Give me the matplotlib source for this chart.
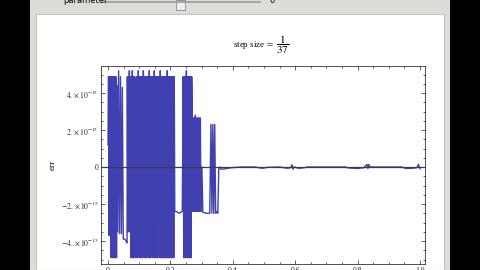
import numpy as np
import matplotlib
matplotlib.use("Agg")
import matplotlib.pyplot as plt
from matplotlib.patches import Rectangle
from matplotlib.ticker import MultipleLocator, FixedLocator

plt.rcParams['font.family'] = ['Liberation Serif', 'DejaVu Serif']
plt.rcParams['mathtext.fontset'] = 'stix'
plt.rcParams['path.simplify'] = False

# error values in units of 1e-15
# each block: sample span on the x axis and the values sampled across it
span_a = (0.000, 0.029)
y_a = [1.2, 4.88, -3.7, 4.88, -3.7, 4.88, -4.9, 4.88, -4.9, 4.88, -4.9, 4.88,
       -4.9, 4.88, -4.9, 4.88, -4.9, 4.4]

x_b = [0.031, 0.034, 0.037, 0.040, 0.043, 0.046, 0.049, 0.054, 0.058, 0.061]
y_b = [-3.5, 5.2, -3.6, 4.88, -3.6, 4.3, -3.9, -3.9, -4.0, -4.1]

span_c = (0.062, 0.214)
y_c = [4.88, -3.5, 4.88, -3.5, 5.2, -3.5, 4.88, -4.9, 4.88, -4.9, 5.2, -4.9,
       4.88, -4.9, 4.88, 4.6, 4.3, -4.9, 4.88, -4.9, 4.88, -4.9, 5.2, -3.5,
       4.88, -4.9, 4.88, -4.9, 4.88, -4.9, 4.88, -4.9, 5.2, 4.5, 4.88, -4.9,
       4.88, -4.9, 4.88, -4.9, 4.88, -4.6, 4.88, -4.9, 5.2, -4.9, 4.88, -4.9,
       4.88, 4.7, 4.88, -4.9, 4.88, -4.9, 5.2, -4.9, 4.88, -4.9, 4.88, -4.9,
       4.88, -4.9, 4.88, 4.6, 4.88, -4.9, 5.2, -4.9, 4.88, -4.9, 4.88, -4.9,
       4.88, -4.9, 4.88, -4.9, 4.88, -4.9, 4.88, -4.9, 5.2, -4.9, 4.88, -4.9,
       4.88, -4.9, 4.88, -4.9, 4.88, -4.9, 4.88, -4.9, 4.88, -4.9, 4.88, -2.4]

x_d = [0.218, 0.228, 0.238]
y_d = [-2.4, -2.5, -2.4]

span_e = (0.241, 0.270)
y_e = [4.88, -4.9, 4.88, -4.9, 4.88, -4.9, 5.2, -4.9, 4.88, -4.9, 4.88, -4.9,
       4.88, -4.9, 4.88, -4.9, 4.88, 2.6]

span_f = (0.272, 0.296)
y_f = [-2.4, 2.65, -2.4, 2.65, -2.4, 2.8, -2.4, 2.65, -2.4, 2.65, -2.4, 2.65,
       -2.4, 2.65, -2.4, 2.65]

x_g = [0.298, 0.301, 0.304, 0.315, 0.326]
y_g = [-2.4, 0.0, -2.45, -2.5, -2.5]

x_h = [0.330, 0.333, 0.336, 0.339, 0.342, 0.345, 0.349, 0.352, 0.355, 0.358]
y_h = [2.3, -2.5, 2.3, -2.5, 2.3, -2.5, -2.4, -2.5, -0.1, 0.0]

x_i = [0.362, 0.375, 0.390, 0.410, 0.430, 0.470, 0.495, 0.510, 0.550, 0.575,
       0.585, 0.590, 0.593, 0.597, 0.610, 0.625, 0.640, 0.760, 0.770, 0.800,
       0.820, 0.830, 0.833, 0.836, 0.840, 0.940, 0.955, 0.975, 0.990, 0.995,
       1.000]
y_i = [-0.12, -0.1, -0.05, -0.02, 0.0, 0.0, -0.07, -0.02, 0.0, -0.07,
       -0.04, 0.12, -0.12, 0.0, -0.07, -0.05, 0.0, 0.0, -0.05, -0.08,
       -0.04, 0.14, -0.08, 0.14, 0.0, 0.0, -0.08, -0.07, -0.04, 0.15,
       -0.1]

def grid(span, vals):
    return list(np.linspace(span[0], span[1], len(vals)))

x_vals = np.array(grid(span_a, y_a) + x_b + grid(span_c, y_c) + x_d
                  + grid(span_e, y_e) + grid(span_f, y_f) + x_g + x_h + x_i)
err = np.array(y_a + y_b + y_c + y_d + y_e + y_f + y_g + y_h + y_i) * 1e-15

yticks = [-4e-15, -2e-15, 0, 2e-15, 4e-15]
ytick_labels = [r'$-4.\times10^{-15}$', r'$-2.\times10^{-15}$', '0',
                r'$2.\times10^{-15}$', r'$4.\times10^{-15}$']
xticks = [0, 0.2, 0.4, 0.6, 0.8, 1.0]
xtick_labels = ['0', '0.2', '0.4', '0.6', '0.8', '1.0']

W, H = 480, 270
fig = plt.figure(figsize=(4.8, 2.7), dpi=100, facecolor='black')

# window panels (screenshot chrome)
fig.patches.append(Rectangle((30 / W, 0), 420 / W, 1, transform=fig.transFigure,
                             facecolor='#dcdcd8', edgecolor='none', zorder=-2))
fig.patches.append(Rectangle((36 / W, 0), 408 / W, 1 - 14 / H, transform=fig.transFigure,
                             facecolor='white', edgecolor='#c4c4c0', lw=0.8, zorder=-1))

# slider on top
fig.text(63 / W, 1 - 3 / H, 'parameter', fontsize=6, ha='left', va='baseline',
         family=['DejaVu Sans'])
fig.lines.append(plt.Line2D([103 / W, 260 / W], [1 - 2 / H, 1 - 2 / H],
                            transform=fig.transFigure, color='#9a9a9a', lw=1.2))
fig.patches.append(Rectangle((176 / W, 1 - 10 / H), 9 / W, 10 / H, transform=fig.transFigure,
                             facecolor='#eeeeea', edgecolor='#8a8a8a', lw=0.6))
fig.text(270 / W, 1 - 3 / H, '0', fontsize=6, ha='left', va='baseline',
         family=['DejaVu Sans'])

ax = fig.add_axes([101 / W, 1 - 264 / H, 324 / W, 198 / H], zorder=2)
ax.plot(x_vals, err, color='#4040b0', lw=1.0)
ax.axhline(0, color='#3a3a4a', lw=0.9)

ax.set_xlim(-7 / 312, 1 + 5 / 312)
ax.set_ylim(-97 / 18.5 * 1e-15, 101 / 18.5 * 1e-15)

ax.yaxis.set_major_locator(FixedLocator(yticks))
ax.set_yticklabels(ytick_labels)
ax.yaxis.set_minor_locator(MultipleLocator(0.5e-15))
ax.xaxis.set_major_locator(FixedLocator(xticks))
ax.set_xticklabels(xtick_labels)
ax.xaxis.set_minor_locator(MultipleLocator(0.05))
ax.tick_params(which='both', direction='in', top=True, right=True,
               labelsize=5.5, colors='#222222', width=0.5)
ax.tick_params(which='major', length=3, pad=2)
ax.tick_params(which='minor', length=1.5)
for s in ax.spines.values():
    s.set_linewidth(0.6)
    s.set_color('#333333')

fig.text(274 / W, 1 - 45 / H, r'step size$\,=$', fontsize=6.5,
         ha='right', va='center')
fig.text(283 / W, 1 - 45 / H, r'$\dfrac{1}{37}$', fontsize=8,
         ha='center', va='center')
fig.text(53 / W, 1 - 165 / H, 'err', fontsize=6.5, rotation=90,
         ha='center', va='center')

fig.savefig('out.png', dpi=100, facecolor='black')
